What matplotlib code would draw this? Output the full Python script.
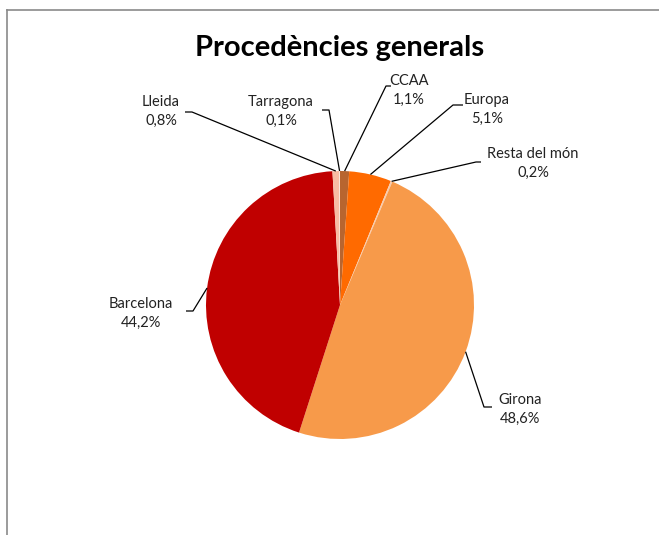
import matplotlib.pyplot as plt
from matplotlib.lines import Line2D
import numpy as np

plt.rcParams['font.family'] = ['Lato', 'DejaVu Sans']

# data, clockwise from 12 o'clock
labels = ["CCAA", "Europa", "Resta del món", "Girona", "Barcelona", "Lleida", "Tarragona"]
values = [1.1, 5.1, 0.2, 48.6, 44.2, 0.8, 0.1]
pct_text = ["1,1%", "5,1%", "0,2%", "48,6%", "44,2%", "0,8%", "0,1%"]
colors = ["#B8652F", "#FF6A00", "#F8CBAD", "#F79A4A", "#C00000", "#F8BCA4", "#FBE5D6"]

W, H = 659, 535
# label layout in pixel coords (x, y top-down): text centre, elbow start, elbow end
label_pos = {
    "CCAA": ((409, 90), (391, 86), (386, 86)),
    "Europa": ((487, 109.5), (463, 105), (453, 105)),
    "Resta del món": ((533, 163.5), (481, 162), (476, 162)),
    "Girona": ((520, 409), (492, 407), (484, 407)),
    "Barcelona": ((141, 313), (186, 311), (193, 311)),
    "Lleida": ((161, 111.5), (185, 112), (192, 112)),
    "Tarragona": ((281, 111), (322, 110), (329, 110)),
}

cx, cy, r = 340, H - 305, 134

fig = plt.figure(figsize=(W / 100, H / 100), dpi=100)
ax = fig.add_axes([0, 0, 1, 1])
ax.set_aspect("equal")
ax.axis("off")

wedges, _ = ax.pie(values, colors=colors, startangle=90, counterclock=False,
                   center=(cx, cy), radius=r, wedgeprops=dict(linewidth=0))
ax.set_xlim(0, W)
ax.set_ylim(0, H)

for w, lab, pt in zip(wedges, labels, pct_text):
    ang = np.deg2rad((w.theta1 + w.theta2) / 2)
    ex, ey = cx + r * np.cos(ang), cy + r * np.sin(ang)
    (tx, ty), (ax1, ay1), (ax2, ay2) = label_pos[lab]
    ax.plot([ax1, ax2, ex], [H - ay1, H - ay2, ey], color="black", lw=0.9,
            solid_capstyle="butt")
    ax.text(tx, H - ty, f"{lab}\n{pt}", ha="center", va="center", fontsize=10.5,
            linespacing=1.45, color="#222222")

ax.text(340, H - 48, "Procedències generals", ha="center", va="center",
        fontsize=21, fontweight="bold", color="black")

# chart frame (partly cut off)
fig.add_artist(Line2D([7 / W, 1], [1 - 10 / H, 1 - 10 / H], color="#8a8a8a", lw=1.2))
fig.add_artist(Line2D([7 / W, 7 / W], [0, 1 - 10 / H], color="#8a8a8a", lw=1.2))

fig.savefig("out.png", dpi=100)
